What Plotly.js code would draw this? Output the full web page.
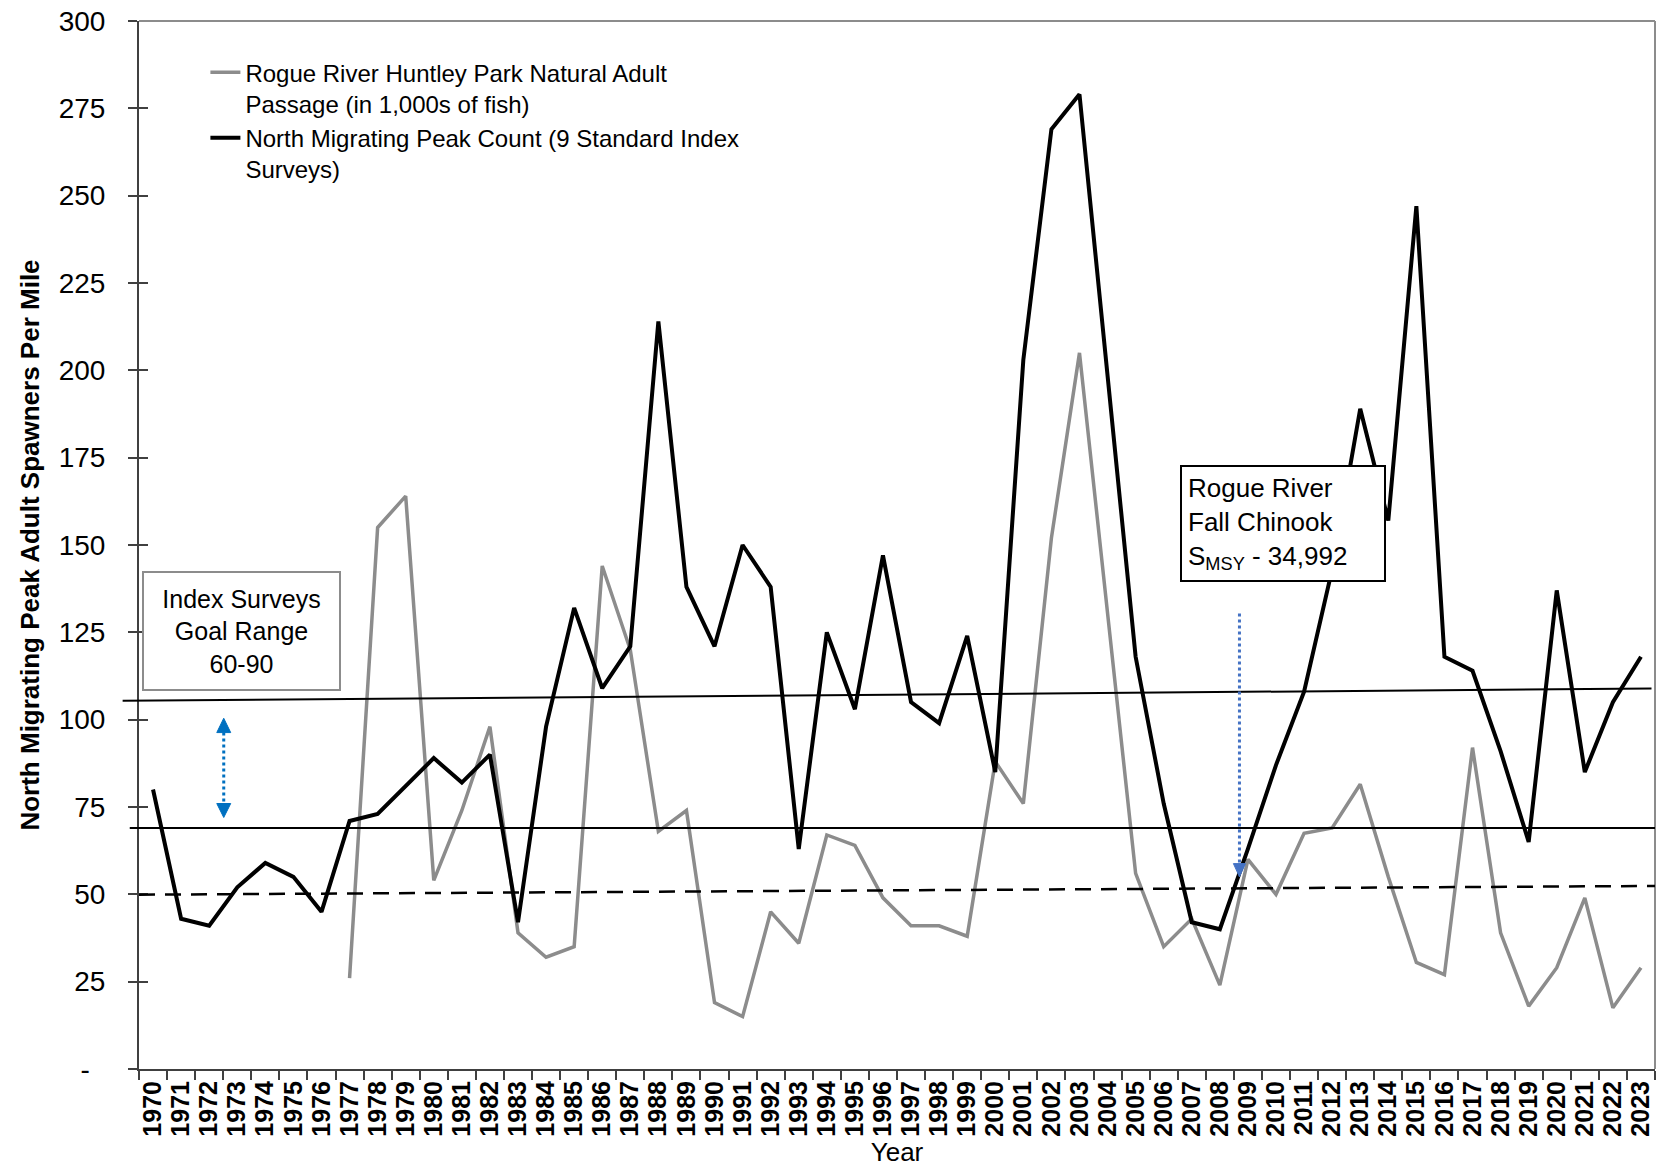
<!DOCTYPE html>
<html>
<head>
<meta charset="utf-8">
<script src="https://cdn.plot.ly/plotly-3.0.1.min.js"></script>
<style>html,body{margin:0;padding:0;background:#fff;}#chart{width:1660px;height:1170px;}</style>
</head>
<body>
<div id="chart"></div>
<script>
const years = ['1970','1971','1972','1973','1974','1975','1976','1977','1978','1979',
  '1980','1981','1982','1983','1984','1985','1986','1987','1988','1989',
  '1990','1991','1992','1993','1994','1995','1996','1997','1998','1999',
  '2000','2001','2002','2003','2004','2005','2006','2007','2008','2009',
  '2010','2011','2012','2013','2014','2015','2016','2017','2018','2019',
  '2020','2021','2022','2023'];

const huntleyPassage = [null,null,null,null,null,null,null,26,155,164,
  54,74,98,39,32,35,144,120,68,74,
  19,15,45,36,67,64,49,41,41,38,
  88,76,152,205,131,56,35,43,24,60,
  50,67.5,69,81.5,55,30.5,27,92,39,18,
  29,49,17.5,29];

const northPeakCount = [80,43,41,52,59,55,45,71,73,81,
  89,82,90,42,98,132,109,121,214,138,
  121,150,138,63,125,103,147,105,99,124,
  85,203,269,279,199,118,76,42,40,63,
  87,108,143,189,157,247,118,114,91,65,
  137,85,105,118];

const yTickVals = [0,25,50,75,100,125,150,175,200,225,250,275,300];
const yTickText = ['-\u00a0\u00a0','25','50','75','100','125','150','175','200','225','250','275','300'];

const seriesNames = ['Rogue River Huntley Park Natural Adult<br>Passage (in 1,000s of fish)',
  'North Migrating Peak Count (9 Standard Index<br>Surveys)'];

// reference lines drawn on the chart (value at left end, value at right end)
const upperLine = [105.4, 108.9];
const lowerLine = [69, 69];
const dashedLine = [49.9, 52.4];

const FONT = 'Liberation Sans, Arial, sans-serif';

const traces = [
  {x: years, y: huntleyPassage, type: 'scatter', mode: 'lines', name: seriesNames[0],
   line: {color: '#8C8C8C', width: 3.5}, connectgaps: false},
  {x: years, y: northPeakCount, type: 'scatter', mode: 'lines', name: seriesNames[1],
   line: {color: '#000000', width: 4}},
  {x: [years[0]], y: [null], yaxis: 'y2', showlegend: false, type: 'scatter', mode: 'lines', hoverinfo: 'skip'}
];

const arrow1X = 0.0559, arrow2X = 0.7259;

const layout = {
  width: 1660, height: 1170,
  margin: {l: 139, r: 5, t: 21, b: 101},
  paper_bgcolor: '#ffffff', plot_bgcolor: '#ffffff',
  font: {family: FONT, color: '#000000'},
  showlegend: true,
  legend: {x: 0.0438, y: 0.9721, xanchor: 'left', yanchor: 'top', bgcolor: 'rgba(0,0,0,0)',
    font: {family: FONT, size: 24, color: '#000'}, valign: 'top', itemwidth: 30, tracegroupgap: 0},
  xaxis: {
    type: 'category', categoryorder: 'array', categoryarray: years, range: [-0.5, 53.5],
    tickmode: 'array', tickvals: years, ticktext: years,
    tickson: 'boundaries', ticks: 'outside', ticklen: 9, tickwidth: 2, tickcolor: '#404040',
    showline: true, linecolor: '#404040', linewidth: 2, showgrid: false, zeroline: false,
    tickangle: -90, tickfont: {family: FONT, size: 25, color: '#000', weight: 'bold'},
    title: {text: 'Year', font: {family: FONT, size: 26, color: '#000'}, standoff: 6},
    automargin: false, fixedrange: true
  },
  yaxis: {
    range: [0, 300], tickmode: 'array', tickvals: yTickVals, ticktext: yTickText,
    ticks: 'outside', ticklen: 9, tickwidth: 2, tickcolor: '#404040',
    showline: true, linecolor: '#404040', linewidth: 2, showgrid: false, zeroline: false,
    tickfont: {family: FONT, size: 28, color: '#000'}, ticklabelstandoff: 17,
    title: {text: 'North Migrating Peak Adult Spawners Per Mile',
      font: {family: FONT, size: 26, color: '#000', weight: 'bold'}, standoff: 12},
    automargin: false, fixedrange: true
  },
  yaxis2: {
    overlaying: 'y', side: 'left', anchor: 'x', range: [0, 300], tickmode: 'array', tickvals: yTickVals,
    ticks: 'inside', ticklen: 9, tickwidth: 2, tickcolor: '#404040', showticklabels: false,
    showline: false, showgrid: false, zeroline: false, fixedrange: true
  },
  shapes: [
    {type: 'line', xref: 'paper', yref: 'paper', x0: 0, x1: 1, y0: 1, y1: 1, line: {color: '#8C8C8C', width: 2}},
    {type: 'line', xref: 'paper', yref: 'paper', x0: 1, x1: 1, y0: 0, y1: 1, line: {color: '#8C8C8C', width: 2}},
    {type: 'line', xref: 'paper', yref: 'y', x0: -0.0108, x1: 0.9977, y0: upperLine[0], y1: upperLine[1],
     line: {color: '#000', width: 2}},
    {type: 'line', xref: 'paper', yref: 'y', x0: -0.0061, x1: 1, y0: lowerLine[0], y1: lowerLine[1],
     line: {color: '#000', width: 2}},
    {type: 'line', xref: 'paper', yref: 'y', x0: 0, x1: 1, y0: dashedLine[0], y1: dashedLine[1],
     line: {color: '#000', width: 2.5, dash: '16px,10px'}},
    // goal range double arrow
    {type: 'line', xref: 'paper', yref: 'y', x0: arrow1X, x1: arrow1X, y0: 96.3, y1: 76.0,
     line: {color: '#0070C0', width: 3, dash: '3px,3px'}},
    {type: 'path', xref: 'paper', yref: 'y',
     path: `M ${arrow1X},100.4 L ${arrow1X - 0.0046},96.3 L ${arrow1X + 0.0046},96.3 Z`,
     fillcolor: '#0070C0', line: {color: '#0070C0', width: 1}},
    {type: 'path', xref: 'paper', yref: 'y',
     path: `M ${arrow1X},72.0 L ${arrow1X - 0.0046},76.0 L ${arrow1X + 0.0046},76.0 Z`,
     fillcolor: '#0070C0', line: {color: '#0070C0', width: 1}},
    // SMSY arrow
    {type: 'line', xref: 'paper', yref: 'y', x0: arrow2X, x1: arrow2X, y0: 130.4, y1: 58.8,
     line: {color: '#4472C4', width: 3, dash: '3px,3px'}},
    {type: 'path', xref: 'paper', yref: 'y',
     path: `M ${arrow2X},55.0 L ${arrow2X - 0.004},58.8 L ${arrow2X + 0.004},58.8 Z`,
     fillcolor: '#4472C4', line: {color: '#4472C4', width: 1}}
  ],
  annotations: [
    {text: 'Index Surveys<br>Goal Range<br>60-90', xref: 'paper', yref: 'y', x: 0.0674, y: 125.4,
     xanchor: 'center', yanchor: 'middle', showarrow: false, align: 'center',
     font: {family: FONT, size: 25, color: '#000'}, bordercolor: '#8C8C8C', borderwidth: 2,
     borderpad: 4, bgcolor: '#ffffff', width: 187, height: 108},
    {text: 'Rogue River<br>Fall Chinook<br>S<sub>MSY</sub> - 34,992', xref: 'paper', yref: 'y', x: 0.7548, y: 156.2,
     xanchor: 'center', yanchor: 'middle', showarrow: false, align: 'left',
     font: {family: FONT, size: 26, color: '#000'}, bordercolor: '#000000', borderwidth: 2,
     borderpad: 6, bgcolor: '#ffffff', width: 190, height: 101}
  ]
};

Plotly.newPlot('chart', traces, layout, {displayModeBar: false, staticPlot: true});
</script>
</body>
</html>
